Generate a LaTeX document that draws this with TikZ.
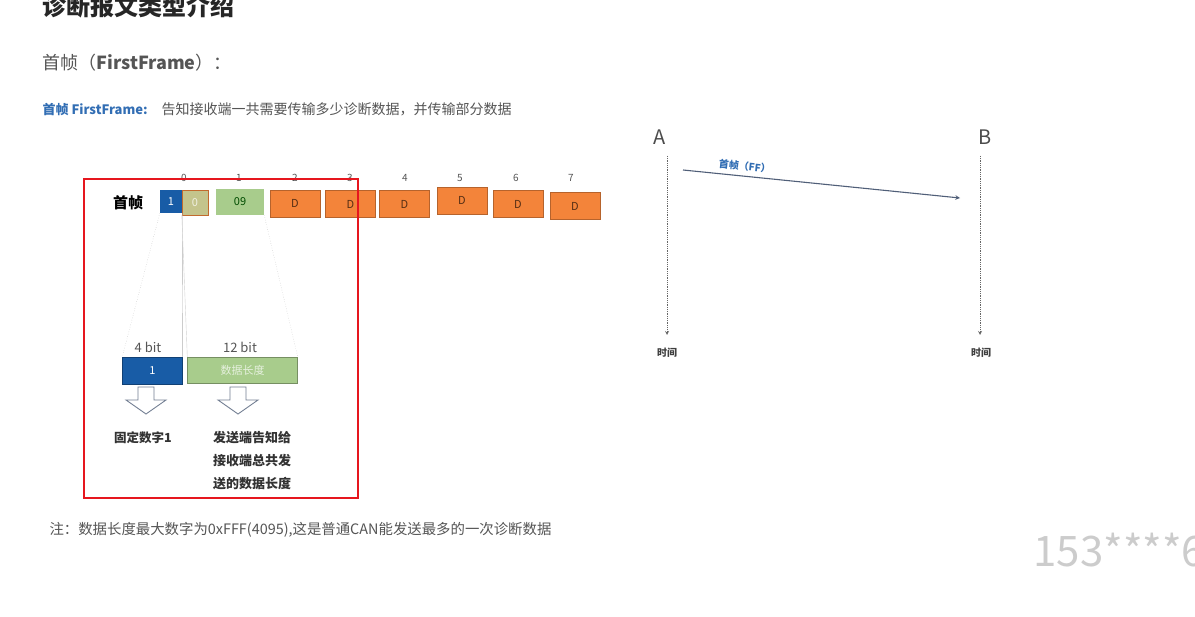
\documentclass[tikz,border=0pt]{standalone}
\usepackage{fontspec}
\setmainfont{Noto Sans CJK SC}
\usetikzlibrary{positioning,arrows}

\definecolor{fblue}{RGB}{24,92,166}
\definecolor{fgreen}{RGB}{168,204,140}
\definecolor{ftan}{RGB}{196,196,140}
\definecolor{forange}{RGB}{243,132,58}
\definecolor{txtgray}{RGB}{85,85,85}
\definecolor{hblue}{RGB}{50,110,180}
\definecolor{linkgray}{RGB}{80,95,120}
\definecolor{markred}{RGB}{230,22,30}

\begin{document}
\begin{tikzpicture}[x=1pt,y=-1pt,>=stealth,
	% Byte cells
	cell/.style={rectangle,inner sep=0pt,font=\fontsize{11}{11}\selectfont},
	dbyte/.style={cell,fill=forange,draw=forange!75!black,text=forange!35!black,minimum width=50pt,minimum height=27pt},
	idx/.style={font=\fontsize{10}{10}\selectfont,text=txtgray},
	% Bit fields, notes and guides
	bits/.style={font=\fontsize{13}{13}\selectfont,text=txtgray},
	note/.style={font=\bfseries\fontsize{13}{23}\selectfont,text=black!80,align=center},
	guide/.style={draw=gray!60,thin},
	hollow/.style={draw=linkgray!80,fill=white,line width=0.9pt,line join=miter},
	timeline/.style={draw=black!60,densely dotted,thick,->}
	]
	\useasboundingbox (0,0) rectangle (1195,617);
	\fill[white] (0,0) rectangle (1195,617);

	%% Headings
	\node[anchor=west,font=\bfseries\fontsize{24}{24}\selectfont,text=black!85] (title) at (39,6) {诊断报文类型介绍};
	\node[anchor=west,font=\fontsize{18}{18}\selectfont,text=txtgray] (head) at (39,63) {首帧（\textbf{FirstFrame}）：};
	\node[anchor=west,font=\fontsize{13}{13}\selectfont] (def) at (39,109) {\textcolor{hblue}{\bfseries 首帧 FirstFrame:}\hspace{14pt}\textcolor{txtgray}{\fontsize{14}{14}\selectfont 告知接收端一共需要传输多少诊断数据，并传输部分数据}};

	%% Frame bytes
	\node[font=\bfseries\fontsize{15}{15}\selectfont] (ff) at (128,203) {首帧};
	\node[cell,fill=fblue,text=white,minimum width=22pt,minimum height=23pt] (b1) at (171,201.5) {1};
	\node[cell,fill=ftan,draw=forange!80!black,text=white!75!ftan,minimum width=26pt,minimum height=25pt] (b0) at (195,202.5) {0};
	\node[cell,fill=fgreen,text=green!30!black,minimum width=48pt,minimum height=26pt] (b09) at (240,202) {09};
	\node[dbyte] (d2) at (295,203.5) {D};
	\node[dbyte] (d3) at (350.5,204) {D};
	\node[dbyte] (d4) at (404.5,204) {D};
	\node[dbyte] (d5) at (462,200.5) {D};
	\node[dbyte] (d6) at (518,204) {D};
	\node[dbyte] (d7) at (575,206) {D};

	%% Byte numbers
	\node[idx] (i0) at (184,178) {0};
	\node[idx] (i1) at (239,178) {1};
	\node[idx] (i2) at (295,178) {2};
	\node[idx] (i3) at (350,178) {3};
	\node[idx] (i4) at (405,178) {4};
	\node[idx] (i5) at (460,178) {5};
	\node[idx] (i6) at (516,178) {6};
	\node[idx] (i7) at (571,178) {7};

	%% Bit fields
	\node[cell,fill=fblue,draw=fblue!70!black,text=white,minimum width=60pt,minimum height=27pt] (n1) at (152.5,370.5) {1};
	\node[cell,fill=fgreen,draw=fgreen!70!black,text=white!70!fgreen,minimum width=110pt,minimum height=26pt] (nlen) at (242.5,370) {数据长度};
	\node[bits] (w1) at (148,347) {4 bit};
	\node[bits] (w12) at (240,347) {12 bit};

	\draw[guide,dotted] (b1.south west) -- (n1.north west);
	\draw[guide] (b1.south east) -- (n1.north east);
	\draw[guide,draw=gray!35] (b0.south west) -- (nlen.north west);
	\draw[guide,dotted] (b09.south east) -- (nlen.north east);

	%% Hollow arrows and meanings
	\coordinate (a1) at (146,387);
	\coordinate (a2) at (238,387);
	\draw[hollow] (a1) ++(-8,0) -- ++(16,0) -- ++(0,13) -- ++(12,0) -- ++(-20,14) -- ++(-20,-14) -- ++(12,0) -- cycle;
	\draw[hollow] (a2) ++(-8,0) -- ++(16,0) -- ++(0,13) -- ++(12,0) -- ++(-20,14) -- ++(-20,-14) -- ++(12,0) -- cycle;
	\node[note,font=\bfseries\fontsize{12.5}{14}\selectfont] (m1) at (143,438) {固定数字1};
	\node[note] (m2) at (252,461) {发送端告知给\\接收端总共发\\送的数据长度};

	%% Marked area
	\draw[markred,line width=1.6pt] (84,179) rectangle (358,498);

	%% Remark
	\node[anchor=west,font=\fontsize{14.4}{14.4}\selectfont,text=txtgray] (rem) at (46,530) {注：数据长度最大数字为0xFFF(4095),这是普通CAN能发送最多的一次诊断数据};

	%% Sender and receiver
	\node[font=\fontsize{20}{20}\selectfont,text=black!70] (A) at (660,137) {A};
	\node[font=\fontsize{20}{20}\selectfont,text=black!70] (B) at (985,137) {B};
	\node[font=\bfseries\fontsize{10}{10}\selectfont,text=black!75] (tA) at (667,353) {时间};
	\node[font=\bfseries\fontsize{10}{10}\selectfont,text=black!75] (tB) at (981,353) {时间};
	\coordinate (a3) at (667,156);
	\coordinate (a4) at (667,335);
	\coordinate (b3) at (980,156);
	\coordinate (b4) at (980,335);
	\draw[timeline] (a3) -- (a4);
	\draw[timeline] (b3) -- (b4);
	\coordinate (s1) at (683,170);
	\coordinate (s2) at (960,198);
	\draw[->,draw=linkgray,line width=1.1pt] (s1) -- node[pos=0.22,above=1pt,sloped,font=\bfseries\fontsize{10}{10}\selectfont,text=hblue] (ffl) {首帧（FF）} (s2);

	%% Watermark
	\node[anchor=west,font=\fontsize{42}{42}\selectfont,text=black!20] (wm) at (1030,550) {153****6};
\end{tikzpicture}
\end{document}
